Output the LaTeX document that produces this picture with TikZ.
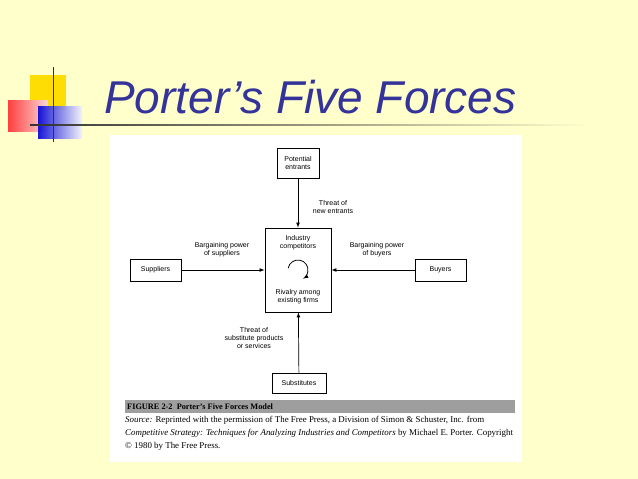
\documentclass[tikz,border=0pt]{standalone}
\usepackage{fontspec}
\setmainfont{Liberation Serif}
\setsansfont{Liberation Sans}
\begin{document}
\begin{tikzpicture}[x=1pt,y=-1pt,
  force/.style={draw,line width=0.8pt,fill=white,font=\sffamily\fontsize{7}{8}\selectfont,align=center,inner sep=2pt},
  lbl/.style={font=\sffamily\fontsize{7}{8}\selectfont,align=center,inner sep=0pt},
  push/.style={draw,line width=0.7pt,-latex}]
\definecolor{bgColor}{RGB}{255,255,204}
\definecolor{titleColor}{RGB}{51,51,153}
\definecolor{barColor}{gray}{0.62}
\path[use as bounding box,fill=bgColor] (0,0) rectangle (638,479);

% corner ornament
\path[fill=yellow!80!orange] (30,75) rectangle (66,110);
\path[left color=red!75,right color=red!15] (8,100) rectangle (48,131);
\path[left color=blue!85!black,right color=blue!5,fill opacity=0.9] (38,106) rectangle (82,138);
\path[draw=black!80,line width=1pt] (53,67) -- (53,142);
\path[left color=black!80,right color=bgColor] (30,124.3) rectangle (590,125.7);

\node[text=titleColor,anchor=base west,inner sep=0pt,font=\sffamily\itshape\fontsize{46}{50}\selectfont] (title) at (104,113) {Porter’s Five Forces};

% scanned figure
\path[fill=white] (110,135) rectangle (522,462);

\node[force,minimum width=42pt,minimum height=30pt] (entrants) at (298,163) {Potential\\entrants};
\node[force,minimum width=66pt,minimum height=84pt] (rivals) at (298,270) {};
\node[force,minimum width=51pt,minimum height=22pt] (suppliers) at (155.5,270) {Suppliers};
\node[force,minimum width=51pt,minimum height=22pt] (buyers) at (440.5,270) {Buyers};
\node[force,minimum width=54pt,minimum height=20pt] (substitutes) at (299,383) {Substitutes};

\node[lbl] (industry) at (298,243) {Industry\\competitors};
\node[lbl] (rivalry) at (298,297) {Rivalry among\\existing firms};
\coordinate (loop) at (298,270);
\draw[line width=0.8pt,-latex] ([shift={(170:10pt)}]loop) arc[start angle=170,end angle=-60,radius=10pt,y=-1pt];

\draw[push] (entrants) -- (rivals);
\draw[push] (suppliers) -- (rivals);
\draw[push] (buyers) -- (rivals);
\draw[push] (substitutes) -- (rivals);

\node[lbl] (newthreat) at (333,207) {Threat of\\new entrants};
\node[lbl] (supplierpower) at (222,250) {Bargaining power\\of suppliers};
\node[lbl] (buyerpower) at (377,250) {Bargaining power\\of buyers};
\node[lbl] (subthreat) at (254,338) {Threat of\\substitute products\\or services};

% caption
\path[fill=barColor] (125,400) rectangle (515,413);
\node[anchor=west,inner sep=0pt,font=\bfseries\fontsize{8.3}{9}\selectfont] (figcap) at (127,406.5) {FIGURE 2-2\ \ Porter’s Five Forces Model};
\node[anchor=north west,inner sep=0pt,align=left,font=\fontsize{8.9}{12.8}\selectfont] (source) at (125,416)
  {\textit{Source:} Reprinted with the permission of The Free Press, a Division of Simon \& Schuster, Inc. from\\
   \textit{Competitive Strategy: Techniques for Analyzing Industries and Competitors} by Michael E. Porter. Copyright\\
   © 1980 by The Free Press.};
\end{tikzpicture}
\end{document}
